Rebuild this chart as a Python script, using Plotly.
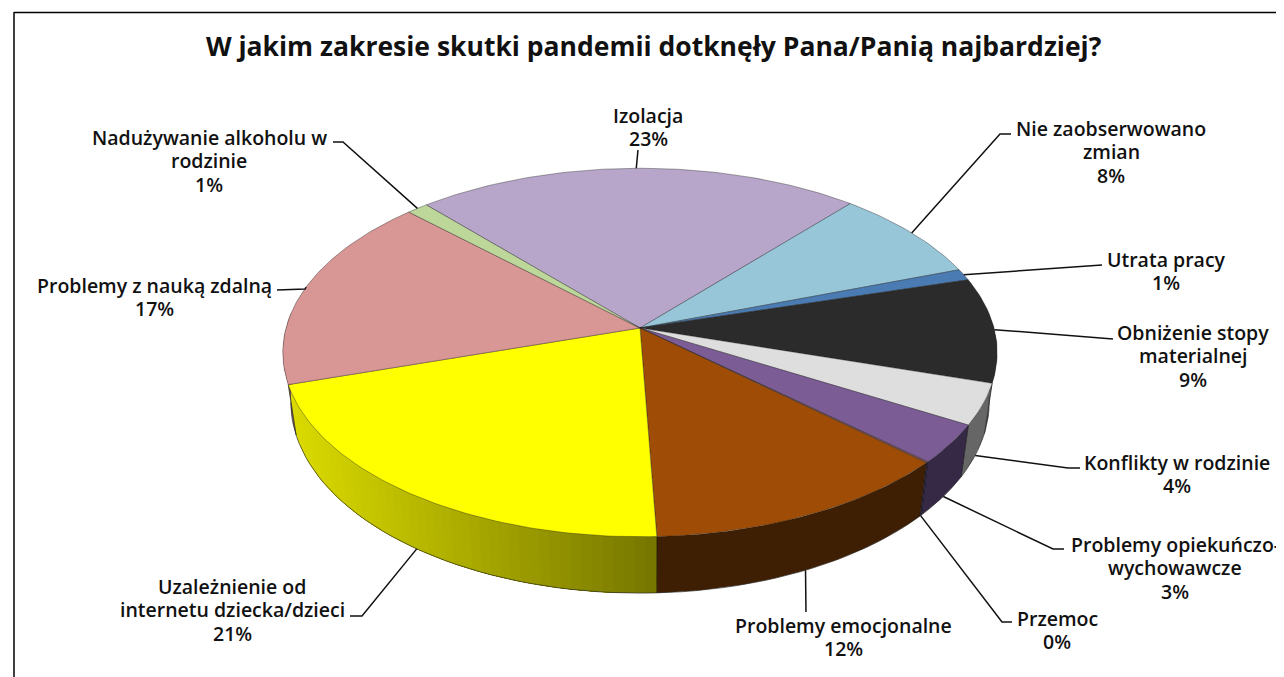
import math
import plotly.graph_objects as go

# ---- data (clockwise from the top-left edge of "Izolacja") ----
categories = ["Izolacja", "Nie zaobserwowano zmian", "Utrata pracy", "Obniżenie stopy materialnej",
              "Konflikty w rodzinie", "Problemy opiekuńczo-wychowawcze", "Przemoc",
              "Problemy emocjonalne", "Uzależnienie od internetu dziecka/dzieci",
              "Problemy z nauką zdalną", "Nadużywanie alkoholu w rodzinie"]
values = [22.9, 8.2, 1.0, 9.2, 3.6, 3.4, 0.1, 12.5, 20.8, 17.2, 1.1]
label_lines = [["Izolacja"], ["Nie zaobserwowano", "zmian"], ["Utrata pracy"],
               ["Obniżenie stopy", "materialnej"], ["Konflikty w rodzinie"],
               ["Problemy opiekuńczo-", "wychowawcze"], ["Przemoc"], ["Problemy emocjonalne"],
               ["Uzależnienie od", "internetu dziecka/dzieci"], ["Problemy z nauką zdalną"],
               ["Nadużywanie alkoholu w", "rodzinie"]]
title = "W jakim zakresie skutki pandemii dotknęły Pana/Panią najbardziej?"

# ---- styles ----
top_colors = ["#B7A6CA", "#98C6D9", "#4A7CB3", "#2B2B2B", "#DEDEDE", "#7B5C95", "#8A5450",
              "#9E4C06", "#FFFF00", "#D89694", "#BDD69A"]
side_colors = ["#6E6079", "#5B7782", "#2C4A6B", "#5A5A5A", "#666666", "#352945", "#352945",
               "#3F1F03", None, "#7A5554", "#71805C"]
label_x = [648, 1111, 1166, 1193, 1177, 1175, 1057, 843, 232, 154, 209]
label_y = [115, 128, 259, 332, 462, 544, 618, 625, 586, 285, 137]
LINE_STEP = 23.5
leader_rim = ["top", "top", "top", "top", "bottom", "bottom", "bottom", "bottom", "bottom", "top", "top"]
leader_t_shift = [-0.3, 0, 0, 0, 0, 0, 0, 0, 0, 0, 0]
leader_end = [[(638, 150)], [(1000, 134), (1011, 134)], [(1095, 265), (1102, 265)],
              [(1100, 338), (1113, 339)], [(1068, 468), (1080, 468)], [(1053, 549), (1064, 549)],
              [(1002, 622), (1012, 622)], [(806, 612)], [(362, 616), (350, 616)],
              [(305, 289), (277, 290)], [(343, 142), (333, 142)]]

CX, CY, A, B, K = 640, 328, 354, 181, 0.133
SX, SY, OFF = 0.978, 1.04, 48
T0 = -41.6
SCALE = 360 / sum(values)
PAGE = 8  # the page's own margin


def top_pt(t):
    r = math.radians(t)
    w = 1 + K * math.cos(r)
    return CX + A * math.sin(r) / w, CY - B * math.cos(r) / w


def bot_pt(t):
    x, y = top_pt(t)
    return CX + (x - CX) * SX, CY + OFF + (y - CY) * SY


def arange(a, b, step=2.0):
    n = max(1, int(abs(b - a) / step))
    return [a + (b - a) * i / n for i in range(n + 1)]


fig = go.Figure()
edges = [T0]
for v in values:
    edges.append(edges[-1] + v * SCALE)


def mix(f):
    f = min(1, max(0, f))
    c = round(218 + (116 - 218) * f)
    return f"rgb({c},{c},0)"


def wall(lo, hi, col):
    ts = arange(lo, hi, 1.0)
    pts = [top_pt(t) for t in ts] + [bot_pt(t) for t in reversed(ts)]
    pts.append(pts[0])
    fig.add_trace(go.Scatter(x=[p[0] for p in pts], y=[p[1] for p in pts], mode="lines",
                             fill="toself", fillcolor=col, line=dict(width=0),
                             hoverinfo="skip", showlegend=False))


# side walls
for i in range(len(values)):
    lo, hi = max(edges[i], 85), min(edges[i + 1], 275)
    if lo >= hi:
        continue
    if side_colors[i] is not None:
        wall(lo, hi, side_colors[i])
    else:
        # painter's order: each strip overlaps the ones still to come, from the left end
        ts = arange(hi, lo, 1.5)
        for a in ts[:-1]:
            wall(lo, a, mix((top_pt(a)[0] - 290) / 366))
    for t in (lo, hi):
        if 85 < t < 275:
            p, q = top_pt(t), bot_pt(t)
            fig.add_trace(go.Scatter(x=[p[0], q[0]], y=[p[1], q[1]], mode="lines",
                                     line=dict(color="rgba(0,0,0,0.5)", width=0.8),
                                     hoverinfo="skip", showlegend=False))

# bottom outline
out = [bot_pt(t) for t in arange(96, 262, 2.0)]
fig.add_trace(go.Scatter(x=[p[0] for p in out], y=[p[1] for p in out], mode="lines",
                         line=dict(color="rgba(40,40,40,0.75)", width=0.9),
                         hoverinfo="skip", showlegend=False))

# top faces
for i, name in enumerate(categories):
    pts = [(CX, CY)] + [top_pt(t) for t in arange(edges[i], edges[i + 1], 1.0)] + [(CX, CY)]
    fig.add_trace(go.Scatter(x=[p[0] for p in pts], y=[p[1] for p in pts], mode="lines",
                             fill="toself", fillcolor=top_colors[i], name=name,
                             line=dict(color="rgba(30,30,30,0.55)", width=0.7),
                             hoverinfo="name", showlegend=False))

# leaders
for i in range(len(values)):
    mid = (edges[i] + edges[i + 1]) / 2 + leader_t_shift[i]
    start = top_pt(mid) if leader_rim[i] == "top" else bot_pt(mid)
    pts = [start] + leader_end[i]
    fig.add_trace(go.Scatter(x=[p[0] for p in pts], y=[p[1] for p in pts], mode="lines",
                             line=dict(color="#111111", width=1.5),
                             hoverinfo="skip", showlegend=False))

FONT = "Open Sans"
ann = []
for i, lines in enumerate(label_lines):
    rows = lines + [f"{round(values[i])}%"]
    for j, row in enumerate(rows):
        ann.append(dict(x=label_x[i], y=label_y[i] + j * LINE_STEP, xref="x", yref="y",
                        text=row, showarrow=False, xanchor="center", yanchor="middle",
                        font=dict(family=FONT, size=19.5, color="#111111", weight=600)))
ann.append(dict(x=654, y=46, xref="x", yref="y", text=title, showarrow=False,
                xanchor="center", yanchor="middle",
                font=dict(family=FONT, size=26.5, color="#111111", weight=700)))

fig.update_layout(
    width=1284, height=677, margin=dict(l=0, r=0, t=0, b=0),
    paper_bgcolor="white", plot_bgcolor="white", showlegend=False,
    xaxis=dict(range=[PAGE, 1284 + PAGE], visible=False, fixedrange=True),
    yaxis=dict(range=[677 + PAGE, PAGE], visible=False, fixedrange=True),
    annotations=ann,
    shapes=[dict(type="line", x0=14, x1=14, y0=12, y1=685, xref="x", yref="y",
                 line=dict(color="black", width=1.5)),
            dict(type="line", x0=14, x1=1292, y0=12.5, y1=12.5, xref="x", yref="y",
                 line=dict(color="black", width=1.5))],
)
fig.write_html("out.html", config=dict(displayModeBar=False))
